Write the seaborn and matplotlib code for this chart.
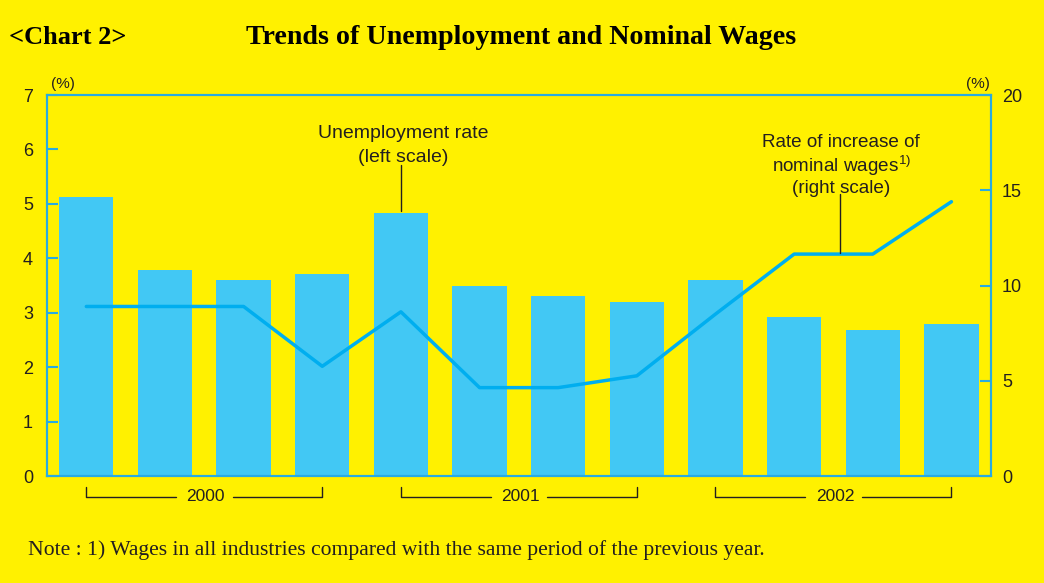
import numpy as np
import pandas as pd
import matplotlib
matplotlib.use('Agg')
import matplotlib.pyplot as plt
import seaborn as sns

# Quarterly data
quarters = ['2000Q1', '2000Q2', '2000Q3', '2000Q4',
            '2001Q1', '2001Q2', '2001Q3', '2001Q4',
            '2002Q1', '2002Q2', '2002Q3', '2002Q4']
unemployment = [5.12, 3.78, 3.60, 3.71, 4.83, 3.49, 3.31, 3.20, 3.60, 2.92, 2.68, 2.79]
wage_growth = [8.9, 8.9, 8.9, 5.76, 8.62, 4.64, 4.64, 5.26, 8.5, 11.65, 11.65, 14.4]
years = ['2000', '2001', '2002']
left_ticks = [0, 1, 2, 3, 4, 5, 6, 7]
right_ticks = [0, 5, 10, 15, 20]

YELLOW = '#FFF100'
BAR = '#42C8F4'
LINE = '#00AEEF'
FRAME = '#29ABE2'
INK = '#231F20'

sns.set_style('white')
plt.rcParams['font.family'] = ['Liberation Sans', 'DejaVu Sans']
plt.rcParams['mathtext.fontset'] = 'custom'
plt.rcParams['mathtext.rm'] = 'Liberation Sans'

df = pd.DataFrame({'quarter': quarters, 'unemployment': unemployment,
                   'wages': wage_growth})

fig = plt.figure(figsize=(10.44, 5.83), dpi=100, facecolor=YELLOW)
ax = fig.add_axes([0.045, 0.1835, 0.904, 0.6535])
ax.set_facecolor(YELLOW)

sns.barplot(data=df, x='quarter', y='unemployment', color=BAR, width=0.69,
            saturation=1, linewidth=0, ax=ax, zorder=2)
ax.set_xlim(-0.5, len(quarters) - 0.5)
ax.set_ylim(0, 7)
ax.set_yticks(left_ticks)
ax.set_xticks(np.arange(len(quarters) - 1) + 0.5)
ax.set_xticklabels([])
ax.set_xlabel('')
ax.set_ylabel('')
ax.tick_params(axis='y', direction='in', length=8, width=1.5, color=FRAME,
               labelsize=13, labelcolor=INK, pad=10)
ax.tick_params(axis='x', direction='in', length=5, width=1, color=FRAME)

ax2 = ax.twinx()
sns.lineplot(x=np.arange(len(quarters)), y=df['wages'], color=LINE,
             linewidth=2.5, ax=ax2, zorder=3)
ax2.set_ylim(0, 20)
ax2.set_yticks(right_ticks)
ax2.set_ylabel('')
ax2.tick_params(axis='y', direction='in', length=8, width=1.5, color=FRAME,
                labelsize=13, labelcolor=INK, pad=8)

for a in (ax, ax2):
    for s in a.spines.values():
        s.set_visible(True)
        s.set_color(FRAME)
        s.set_linewidth(1.5)

# (%) unit labels
ax.text(0.017, 1.03, '(%)', transform=ax.transAxes, fontsize=11, color=INK,
        ha='center', va='center')
ax.text(0.986, 1.03, '(%)', transform=ax.transAxes, fontsize=11, color=INK,
        ha='center', va='center')

# Series labels with leader lines
ax.text(4.03, 6.08, 'Unemployment rate\n(left scale)', fontsize=14,
        color=INK, ha='center', va='center', linespacing=1.55)
ax.plot([4, 4], [4.87, 5.72], color=INK, linewidth=1, zorder=4)
ax2.text(9.6, 16.3, 'Rate of increase of\nnominal wages$^{\\mathrm{1)}}$\n(right scale)',
         fontsize=13.6, color=INK, ha='center', va='center', linespacing=1.15)
ax2.plot([9.58, 9.58], [11.7, 14.8], color=INK, linewidth=1, zorder=4)

# Year brackets below the axis
for i, yr in enumerate(years):
    x0, x1 = 4 * i, 4 * i + 3
    xm = (x0 + x1) / 2
    ax.plot([x0, x0, xm - 0.36], [-0.2, -0.38, -0.38], color=INK, lw=1,
            clip_on=False)
    ax.plot([xm + 0.36, x1, x1], [-0.38, -0.38, -0.2], color=INK, lw=1,
            clip_on=False)
    ax.text(xm + 0.02, -0.38, yr, fontsize=12.5, color=INK, ha='center',
            va='center')

# Titles and note
serif = ['Liberation Serif', 'DejaVu Serif']
fig.text(0.009, 0.935, '<Chart 2>', fontsize=19, fontweight='bold',
         family=serif, color='black', va='center')
fig.text(0.236, 0.935, 'Trends of Unemployment and Nominal Wages', fontsize=20.2,
         fontweight='bold', family=serif, color='black', va='center')
fig.text(0.027, 0.057, 'Note : 1) Wages in all industries compared with the same '
         'period of the previous year.', fontsize=15.6, family=serif,
         color=INK, va='center')

plt.savefig('out.png', dpi=100, facecolor=YELLOW)
plt.close()
